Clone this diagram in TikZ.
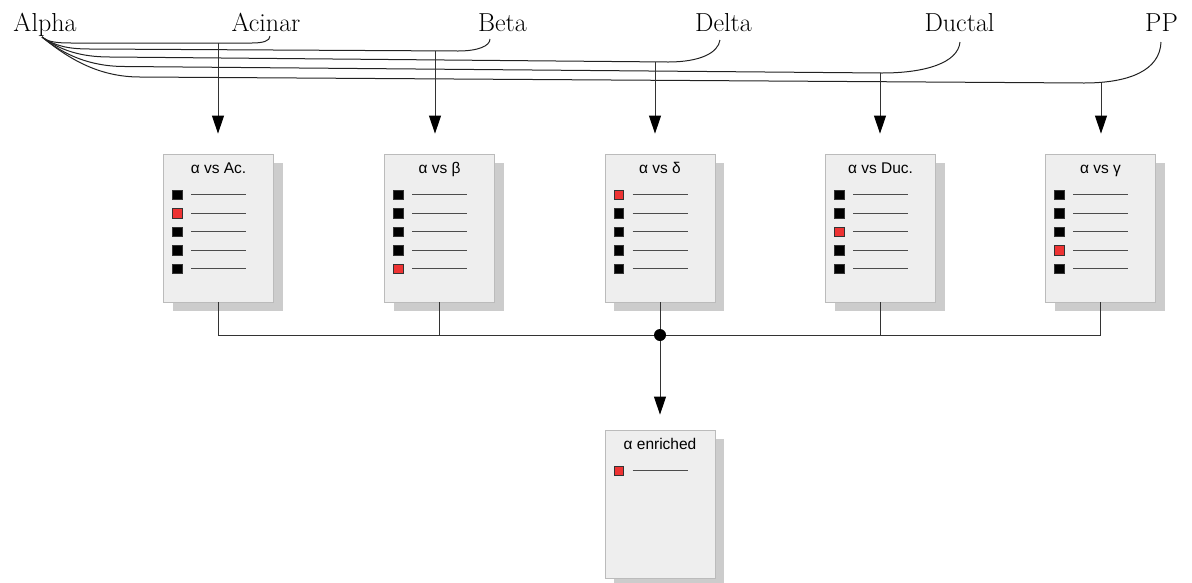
\documentclass[tikz,border=0pt]{standalone}
\usepackage{fontspec}
\newfontfamily\boxfont{Liberation Sans}
\usetikzlibrary{arrows.meta,shadows,calc}
\definecolor{boxfill}{HTML}{EEEEEE}
\definecolor{boxline}{HTML}{BBBBBB}
\definecolor{shadecol}{HTML}{CCCCCC}
\definecolor{itemred}{HTML}{EE3333}
\definecolor{conncol}{HTML}{333333}
\definecolor{curvecol}{HTML}{222222}
\newcommand\carditem[3]{%
  \path (#1.north west) ++(14,{41+18.5*(#2-1)}) node[sq,fill=#3] (#1s#2) {};
  \draw[itemline] ($(#1s#2.east)+(9,0)$) -- ++(55,0);
}
\begin{document}
\begin{tikzpicture}[x=1pt,y=-1pt,
  lbl/.style={font=\fontsize{26}{30}\selectfont, anchor=base, inner sep=0pt},
  card/.style={draw=boxline, fill=boxfill, minimum width=110pt, minimum height=148pt,
    inner sep=0pt, line width=0.8pt,
    drop shadow={shadow xshift=9pt, shadow yshift=-9pt, fill=shadecol, opacity=1}},
  ttl/.style={font=\boxfont\fontsize{15.5}{17}\selectfont, inner sep=0pt, anchor=base},
  sq/.style={draw=black!80, line width=0.6pt, minimum size=9.5pt, inner sep=0pt},
  itemline/.style={draw=black!70, line width=0.8pt},
  curve/.style={draw=curvecol, line width=1pt},
  conn/.style={draw=conncol, line width=0.9pt},
  arr/.style={conn, -{Triangle[length=18pt,width=12pt,color=black]}},
]
\useasboundingbox (0,0) rectangle (1192,582);

% labels
\node[lbl] (alpha)  at (45,31.5)   {Alpha};
\node[lbl] (acinar) at (266,31.5)  {Acinar};
\node[lbl] (beta)   at (502.5,31.5){Beta};
\node[lbl] (delta)  at (723.5,31.5){Delta};
\node[lbl] (ductal) at (959.5,31.5){Ductal};
\node[lbl] (pp)     at (1161.5,31.5){PP};

\coordinate (aS)  at (42,37);
\coordinate (acS) at (270,36);
\coordinate (beS) at (490,39);
\coordinate (deS) at (720,40);
\coordinate (duS) at (960,42);
\coordinate (ppS) at (1161,42);

% curly connectors
\draw[curve] (aS) .. controls (48,42) and (56,43) .. (72,43) -- (252,43) .. controls (263,43) and (270,41) .. (acS);
\draw[curve] (aS) .. controls (55,46) and (68,49) .. (90,49) -- (458,51) .. controls (478,51) and (490,46) .. (beS);
\draw[curve] (aS) .. controls (60,50) and (80,57) .. (110,57) -- (668,62) .. controls (700,62) and (718,53) .. (deS);
\draw[curve] (aS) .. controls (64,55) and (90,66.5) .. (125,66.5) -- (882,73) .. controls (925,73) and (958,63) .. (duS);
\draw[curve] (aS) .. controls (70,60) and (100,77) .. (140,77) -- (1084,83) .. controls (1130,83) and (1160,70) .. (ppS);

% cards
\node[card] (b1) at (218.5,228) {};
\node[card] (b2) at (439.5,228) {};
\node[card] (b3) at (660,228) {};
\node[card] (b4) at (880.5,228) {};
\node[card] (b5) at (1100.5,228) {};
\node[card] (en) at (660,504) {};

\node[ttl] (t1) at ($(b1.north)+(0,20)$) {α vs Ac.};
\node[ttl] (t2) at ($(b2.north)+(0,20)$) {α vs β};
\node[ttl] (t3) at ($(b3.north)+(0,20)$) {α vs δ};
\node[ttl] (t4) at ($(b4.north)+(0,20)$) {α vs Duc.};
\node[ttl] (t5) at ($(b5.north)+(0,20)$) {α vs γ};
\node[ttl] (te) at ($(en.north)+(0,20)$) {α enriched};

\carditem{b1}{1}{black}\carditem{b1}{2}{itemred}\carditem{b1}{3}{black}\carditem{b1}{4}{black}\carditem{b1}{5}{black}
\carditem{b2}{1}{black}\carditem{b2}{2}{black}\carditem{b2}{3}{black}\carditem{b2}{4}{black}\carditem{b2}{5}{itemred}
\carditem{b3}{1}{itemred}\carditem{b3}{2}{black}\carditem{b3}{3}{black}\carditem{b3}{4}{black}\carditem{b3}{5}{black}
\carditem{b4}{1}{black}\carditem{b4}{2}{black}\carditem{b4}{3}{itemred}\carditem{b4}{4}{black}\carditem{b4}{5}{black}
\carditem{b5}{1}{black}\carditem{b5}{2}{black}\carditem{b5}{3}{black}\carditem{b5}{4}{itemred}\carditem{b5}{5}{black}
\carditem{en}{1}{itemred}

% arrows from curves to cards
\coordinate (j1) at (218,43);
\coordinate (j2) at (435,51);
\coordinate (j3) at (655,62);
\coordinate (j4) at (880,73);
\coordinate (j5) at (1101,83);
\draw[arr, shorten >=20pt] (j1) -- (j1 |- b1.north);
\draw[arr, shorten >=20pt] (j2) -- (j2 |- b2.north);
\draw[arr, shorten >=20pt] (j3) -- (j3 |- b3.north);
\draw[arr, shorten >=20pt] (j4) -- (j4 |- b4.north);
\draw[arr, shorten >=20pt] (j5) -- (j5 |- b5.north);

% merge
\node[circle, fill=black, minimum size=12pt, inner sep=0pt] (hub) at (660,335) {};
\draw[conn] (b1.south) |- (hub);
\draw[conn] (b2.south) |- (hub);
\draw[conn] (b3.south) -- (hub);
\draw[conn] (b4.south) |- (hub);
\draw[conn] (b5.south) |- (hub);
\draw[arr, shorten >=15pt] (hub) -- (en.north);
\end{tikzpicture}
\end{document}
